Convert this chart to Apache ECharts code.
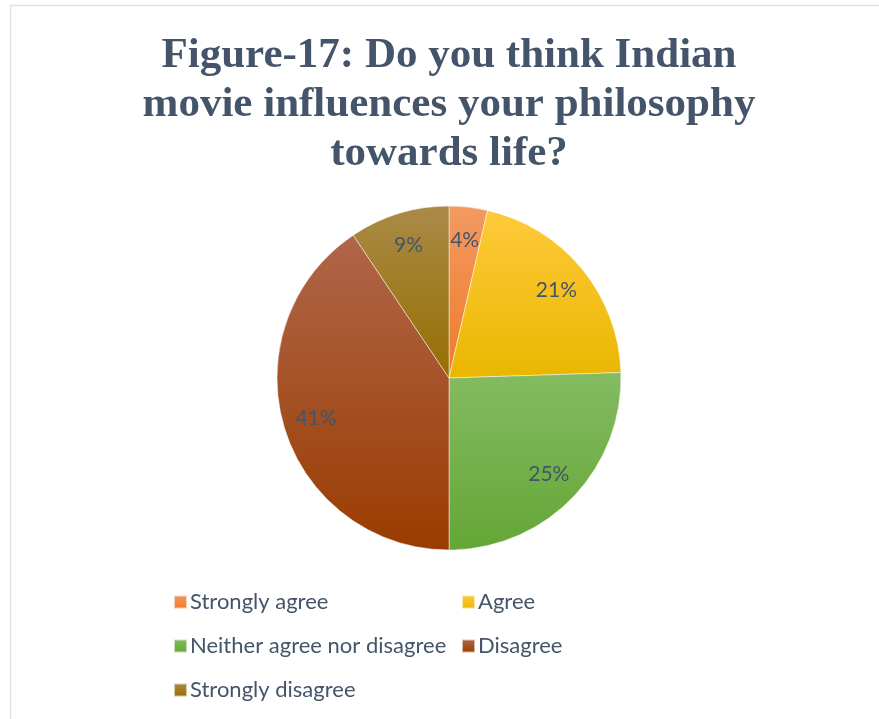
<!DOCTYPE html>
<html>
<head>
<meta charset="utf-8">
<script src="https://cdn.jsdelivr.net/npm/echarts@6/dist/echarts.min.js"></script>
<style>
html,body{margin:0;padding:0;background:#fff;}
#chart{width:879px;height:719px;}
</style>
</head>
<body>
<div id="chart"></div>
<script>
var titleText = 'Figure-17: Do you think Indian\nmovie influences your philosophy\ntowards life?';
var categories = ['Strongly agree', 'Agree', 'Neither agree nor disagree', 'Disagree', 'Strongly disagree'];
var values = [3.6, 20.9, 25.5, 40.6, 9.4];
var colorsTop = ['#F29A60', '#FFCA3A', '#84BB61', '#B0664A', '#AA8A48'];
var colorsBottom = ['#EF7A2C', '#E9B700', '#64A636', '#9A3C00', '#966E00'];
var legendCol1 = ['Strongly agree', 'Neither agree nor disagree', 'Strongly disagree'];
var legendCol2 = ['Agree', 'Disagree'];

var chart = echarts.init(document.getElementById('chart'), null, {renderer: 'canvas'});

function grad(i) {
  return new echarts.graphic.LinearGradient(0, 0, 0, 1, [
    {offset: 0, color: colorsTop[i]},
    {offset: 1, color: colorsBottom[i]}
  ]);
}

var mainData = categories.map(function (c, i) {
  return {name: c, value: values[i], itemStyle: {color: grad(i)}};
});
var labelData = categories.map(function (c, i) {
  return {name: c, value: values[i]};
});

var textColor = '#44546A';
var legendBase = {
  orient: 'vertical',
  itemWidth: 13,
  itemHeight: 13,
  itemGap: 18,
  icon: 'rect',
  textStyle: {fontFamily: 'Lato', fontSize: 22, color: textColor, lineHeight: 26, padding: [0, 0, 0, -2]},
  selectedMode: false
};

chart.setOption({
  backgroundColor: '#ffffff',
  animation: false,
  graphic: [{
    type: 'rect',
    shape: {x: 10.5, y: 5.5, width: 900, height: 800},
    style: {fill: 'none', stroke: '#DCE1EA', lineWidth: 1.5},
    silent: true
  }, {
    type: 'text',
    x: 449,
    y: 31,
    silent: true,
    style: {
      text: titleText,
      fill: textColor,
      font: 'bold 43px "Liberation Serif"',
      lineHeight: 49,
      align: 'center',
      verticalAlign: 'top'
    }
  }],
  legend: [
    Object.assign({}, legendBase, {left: 168, top: 584, data: legendCol1.map(function (n, i) {
      var idx = categories.indexOf(n);
      return {name: n, itemStyle: {color: grad(idx)}};
    })}),
    Object.assign({}, legendBase, {left: 456, top: 584, data: legendCol2.map(function (n) {
      var idx = categories.indexOf(n);
      return {name: n, itemStyle: {color: grad(idx)}};
    })})
  ],
  series: [
    {
      type: 'pie',
      center: [449, 378],
      radius: 172,
      startAngle: 90,
      clockwise: true,
      avoidLabelOverlap: false,
      label: {show: false},
      labelLine: {show: false},
      itemStyle: {borderColor: 'rgba(255,255,255,0.6)', borderWidth: 0.8},
      emphasis: {disabled: true},
      data: mainData
    },
    {
      type: 'pie',
      center: [449, 378],
      radius: [100, 172],
      startAngle: 90,
      clockwise: true,
      silent: true,
      avoidLabelOverlap: false,
      itemStyle: {color: 'rgba(0,0,0,0)'},
      label: {
        show: true,
        position: 'inside',
        formatter: '{d}%',
        fontFamily: 'Lato',
        fontSize: 21,
        color: textColor
      },
      percentPrecision: 0,
      labelLine: {show: false},
      emphasis: {disabled: true},
      data: labelData
    }
  ]
});
</script>
</body>
</html>
